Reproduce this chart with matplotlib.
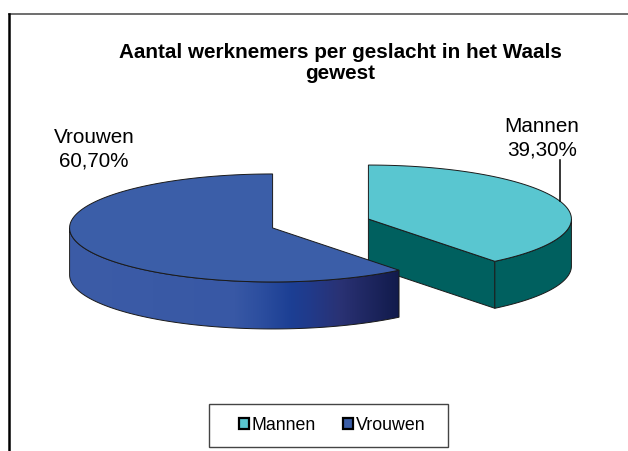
import numpy as np
import matplotlib.pyplot as plt
from matplotlib.patches import Polygon, Rectangle, Patch
from matplotlib.colors import LinearSegmentedColormap

plt.rcParams['font.family'] = ['Liberation Sans', 'DejaVu Sans']

# data
labels = ['Mannen', 'Vrouwen']
values = [39.3, 60.7]
pct_labels = ['39,30%', '60,70%']
top_colors = ['#59c6d0', '#3b5ea8']
side_colors = ['#00605f', None]  # Vrouwen side is drawn with a gradient
title_lines = ['Aantal werknemers per geslacht in het Waals', 'gewest']

# layout (pixels, y down)
W, H = 628, 451
cx, cy = 320.5, 223.5
rx, ry = 203.0, 54.0
depth = 47.0
explode = 0.25
edge = '#1a1a1a'
label_pos = {'Mannen': (541.7, 131.7), 'Vrouwen': (94.0, 143.3)}
line_gap = 23.4

fig = plt.figure(figsize=(W / 100, H / 100), dpi=100)
ax = fig.add_axes([0, 0, 1, 1])
ax.set_xlim(0, W)
ax.set_ylim(H, 0)
ax.axis('off')


def ell(x0, y0, t, dz=0.0):
    t = np.radians(np.atleast_1d(t))
    return np.column_stack([x0 + rx * np.cos(t), y0 - ry * np.sin(t) + dz])


# gradient for the dark blue side wall
grad = LinearSegmentedColormap.from_list('vrouwen_side', [
    (0.0, '#3c5ca7'), (0.5, '#3858a5'), (0.58, '#2c4e9f'),
    (0.67, '#1c3f94'), (0.73, '#213a8a'), (0.82, '#2a3274'),
    (1.0, '#111a4b')])

# slice geometry, start at 12 o'clock going clockwise
total = sum(values)
slices = []
hi = 90.0
for i, v in enumerate(values):
    lo = hi - v / total * 360.0
    mid = np.radians((lo + hi) / 2)
    x0 = cx + explode * rx * np.cos(mid)
    y0 = cy - explode * ry * np.sin(mid)
    slices.append(dict(i=i, lo=lo, hi=hi, mid=(lo + hi) / 2, x0=x0, y0=y0))
    hi = lo

# back slices first
for s in sorted(slices, key=lambda d: d['y0']):
    i, lo, hi, x0, y0 = s['i'], s['lo'], s['hi'], s['x0'], s['y0']
    c_top = np.array([[x0, y0]])
    c_bot = np.array([[x0, y0 + depth]])

    # radial walls facing the viewer
    for a, visible in ((lo, np.cos(np.radians(lo)) > 1e-6),
                       (hi, np.cos(np.radians(hi)) < -1e-6)):
        if visible:
            pts = np.vstack([c_top, ell(x0, y0, a), ell(x0, y0, a, depth),
                             c_bot])
            ax.add_patch(Polygon(pts, closed=True,
                                 facecolor=side_colors[i] or '#1c3f94',
                                 edgecolor=edge, lw=0.7))

    # outer wall on the front half
    for k in (-1, 0, 1):
        a = max(lo, -180 + 360 * k)
        b = min(hi, 360 * k)
        if b - a <= 0.01:
            continue
        t = np.linspace(a, b, 120)
        pts = np.vstack([ell(x0, y0, t), ell(x0, y0, t, depth)[::-1]])
        if side_colors[i] is None:
            poly = Polygon(pts, closed=True, facecolor='none',
                           edgecolor=edge, lw=0.7, zorder=3)
            ax.add_patch(poly)
            img = ax.imshow(np.linspace(0, 1, 256)[None, :], cmap=grad,
                            aspect='auto', zorder=2,
                            extent=[pts[:, 0].min(), pts[:, 0].max(),
                                    pts[:, 1].max(), pts[:, 1].min()])
            img.set_clip_path(poly)
        else:
            ax.add_patch(Polygon(pts, closed=True, facecolor=side_colors[i],
                                 edgecolor=edge, lw=0.7, zorder=3))

    # top face
    t = np.linspace(lo, hi, 200)
    pts = np.vstack([c_top, ell(x0, y0, t)])
    ax.add_patch(Polygon(pts, closed=True, facecolor=top_colors[i],
                         edgecolor=edge, lw=0.7, zorder=4))

# data labels
for s in slices:
    name = labels[s['i']]
    lx, ly = label_pos[name]
    ax.text(lx, ly, name, ha='center', va='baseline', fontsize=14.9)
    ax.text(lx, ly + line_gap, pct_labels[s['i']], ha='center',
            va='baseline', fontsize=14.9)
    if name == 'Mannen':
        bx, by = ell(s['x0'], s['y0'], s['mid'])[0]
        ax.plot([bx, bx], [ly + line_gap + 5, by], color='black', lw=1.1,
                zorder=5)

# title
ax.text(340, 58.3, title_lines[0], ha='center', va='baseline',
        fontsize=14.9, fontweight='bold')
ax.text(340, 79.3, title_lines[1], ha='center', va='baseline',
        fontsize=14.9, fontweight='bold')

# legend
handles = [Patch(facecolor=c, edgecolor='black', linewidth=1.6)
           for c in top_colors]
ax.legend(handles, labels, ncol=2, frameon=False, loc='center',
          bbox_to_anchor=(332 / W, 1 - 425.5 / H), fontsize=12.8,
          handlelength=0.55, handleheight=0.55, handletextpad=0.15,
          columnspacing=1.55)
ax.add_patch(Rectangle((209, 404), 239, 43, fill=False, edgecolor='#444444',
                       lw=1.0))

# chart area border
ax.plot([9, W], [14, 14], color='#555555', lw=1.2)
ax.plot([9, 9], [14, H], color='black', lw=1.8)

fig.savefig('out.png', dpi=100)
